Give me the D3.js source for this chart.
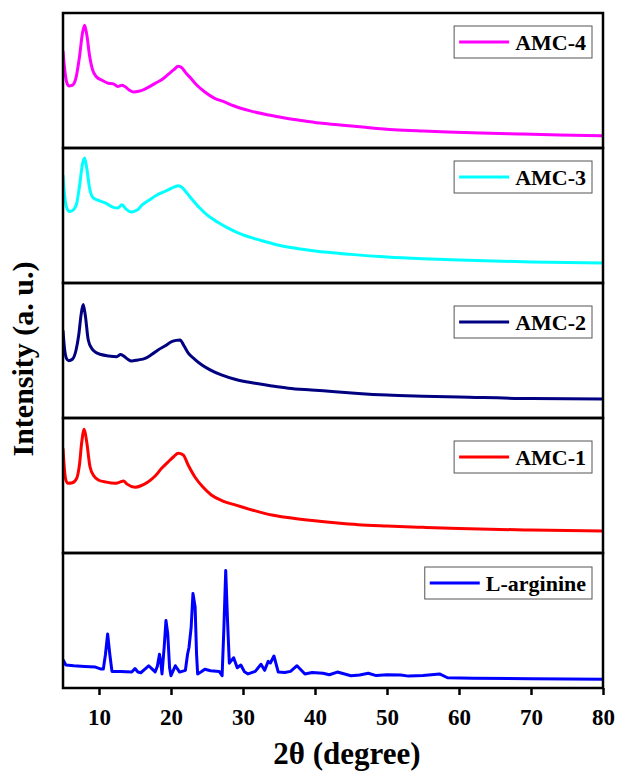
<!DOCTYPE html>
<html>
<head>
<meta charset="utf-8">
<script src="https://cdn.jsdelivr.net/npm/d3@7"></script>
<style>
  body { margin: 0; background: #fff; }
  text { font-family: 'Liberation Serif', 'Times New Roman', serif; font-weight: bold; }
</style>
</head>
<body>
<div id="chart"></div>
<script>
// 2-theta ticks
var xTicks = [10, 20, 30, 40, 50, 60, 70, 80]

var names = ['AMC-4', 'AMC-3', 'AMC-2', 'AMC-1', 'L-arginine']
var colors = ['#ff00ff', '#00ffff', '#000080', '#ff0000', '#0000ff']

// [2theta, intensity (a.u., 0-100 within each panel)]
var amc4 = [[5, 72], [5.2, 60], [5.5, 49], [5.8, 46], [6.3, 46.5], [6.8, 52], [7.3, 68], [7.7, 85], [8.0, 91],
  [8.3, 84], [8.7, 68], [9.1, 58], [9.6, 53], [10.5, 50], [11.3, 48], [12.0, 47.5], [12.6, 45.5], [13.2, 46.5],
  [13.6, 45.5], [14.2, 43], [14.8, 41.5], [15.5, 42], [16.3, 43.5], [17.2, 46], [18, 48.5], [18.8, 51],
  [19.6, 54.5], [20.4, 58], [21.0, 60.5], [21.5, 59.5], [22.0, 56], [22.7, 52], [23.5, 47], [24.7, 41.5],
  [26, 37], [27.5, 34], [28.7, 31.3], [31, 27.5], [33.6, 24.4], [36, 22], [38.6, 20], [41, 18.3], [43.5, 17],
  [47, 15.3], [51, 13.6], [55, 12.6], [58.4, 11.9], [63, 11.1], [68.3, 10.4], [74, 9.7], [80, 9.1]]

var amc3 = [[5, 80], [5.2, 66], [5.5, 56], [5.9, 53], [6.4, 54], [6.9, 59], [7.3, 72], [7.7, 88], [8.0, 92.6],
  [8.3, 85], [8.7, 70], [9.2, 63], [10, 61], [11, 59], [12, 56], [12.6, 55.5], [13.2, 58], [13.7, 55],
  [14.5, 52.6], [15.3, 54], [16, 57.8], [17, 61.5], [18, 65], [19, 67.5], [20, 70], [21, 72], [21.6, 70.5],
  [22.3, 66], [23, 61.5], [24, 55.5], [25, 50.4], [26.5, 45], [28, 40.5], [30, 35.6], [32.5, 31.5], [35, 28],
  [37.5, 25.6], [40, 23.7], [45, 21.2], [50, 19.3], [55, 18], [60, 17], [70, 15.6], [80, 14.8]]

var amc2 = [[5, 65], [5.2, 52], [5.5, 44], [5.8, 42.4], [6.3, 43.5], [6.8, 50], [7.2, 62], [7.5, 76], [7.8, 84],
  [8.1, 76], [8.5, 58], [9.0, 51.5], [9.45, 49], [10.3, 47], [11.3, 46], [12.45, 45.4], [13.0, 47], [13.4, 46],
  [14, 43.5], [14.5, 42.2], [15.4, 43], [16.4, 44.2], [17.3, 47], [18.2, 50.4], [19.2, 53.5], [20.1, 56.5],
  [20.7, 57.5], [21.25, 57.8], [21.8, 53.5], [22.4, 48.1], [23.3, 43.5], [24.3, 39.3], [25.5, 35.5], [27, 31.9],
  [29, 28.5], [31.7, 25.7], [34, 23.7], [36.3, 22], [39.5, 20.7], [42.8, 19.5], [46, 18.2], [50, 17],
  [55, 16.2], [60, 15.6], [70, 14.4], [80, 14.1]]

var amc1 = [[5, 77.6], [5.2, 62], [5.4, 54], [5.7, 51.6], [6.3, 52], [6.9, 55.3], [7.3, 66], [7.6, 82],
  [7.95, 91.6], [8.3, 82], [8.75, 63.9], [9.3, 57], [9.9, 54.1], [11, 52.5], [12.2, 51.6], [12.9, 52.5],
  [13.4, 53.3], [13.9, 51], [15, 48.7], [15.9, 50], [16.85, 52.8], [17.8, 57], [18.7, 62.7], [19.6, 67.5],
  [20.4, 71.5], [21, 73.9], [21.7, 72.6], [22.4, 65], [23.3, 56.5], [24.4, 49], [25.6, 43], [27.2, 38.5],
  [28.9, 35.6], [31.5, 31.5], [34, 28.1], [38, 25], [42.8, 22.4], [46, 21], [50, 20], [55, 19], [60, 18.1],
  [70, 17], [80, 16.3]]

var arginine = [[5, 21], [5.4, 17], [6.5, 16.5], [8, 16], [9.5, 15.5], [10.3, 14], [10.6, 14], [10.9, 25],
  [11.2, 40], [11.5, 25], [11.8, 12.3], [13, 12.3], [14.55, 11.9], [15.0, 14.4], [15.4, 11.8], [15.8, 11.3],
  [16.5, 14.5], [16.9, 16.5], [17.4, 14], [17.8, 11.9], [18.1, 16], [18.4, 25], [18.6, 18], [18.75, 10.4],
  [19.05, 30], [19.3, 50], [19.55, 40], [19.8, 15], [20, 9.1], [20.6, 16.5], [21.2, 11.8], [22, 13.1],
  [22.3, 25], [22.5, 30], [22.8, 45], [23.05, 70], [23.35, 60], [23.55, 25], [23.7, 10.4], [24.2, 12],
  [24.7, 13.9], [25.5, 12.8], [26.7, 12.3], [27.1, 9.1], [27.35, 45], [27.6, 87], [27.85, 50], [28.1, 18.4],
  [28.7, 22.4], [29.2, 15], [29.7, 17], [30.2, 12], [30.7, 10.4], [31.7, 12.3], [32.5, 17.6], [33, 13.1],
  [33.5, 19.7], [33.8, 18.5], [34.3, 23.7], [34.9, 11.8], [35.8, 11.5], [36.6, 12.3], [37.5, 16.5],
  [38.6, 10.4], [39.6, 11.5], [41.1, 10.9], [42, 9.8], [43.1, 11.8], [45, 9.1], [46.2, 9.6], [47.4, 10.9],
  [48.5, 9.2], [50, 9.8], [51.9, 9.6], [53, 8.8], [55, 9.2], [57.3, 10.4], [58.4, 7.6], [62, 7.2], [70, 6.9],
  [80, 6.5]]

var series = [amc4, amc3, amc2, amc1, arginine]

;(function () {
  var W = 618
  var H = 771
  var LEFT = 63
  var RIGHT = 603
  var TOP = 13
  var PANEL_H = 135
  var LEGEND_DY = [29, 29, 39, 39, 30] // legend centre below panel top
  var LEGEND_RIGHT = 592

  var svg = d3.select('#chart').append('svg')
    .attr('width', W)
    .attr('height', H)

  var x = d3.scaleLinear().domain([5, 80]).range([LEFT, RIGHT])

  svg.append('defs').selectAll('clipPath').data(series).enter().append('clipPath')
    .attr('id', function (d, i) { return 'clip' + i })
    .append('rect')
    .attr('x', LEFT)
    .attr('y', function (d, i) { return TOP + i * PANEL_H })
    .attr('width', RIGHT - LEFT)
    .attr('height', PANEL_H)

  series.forEach(function (data, i) {
    var top = TOP + i * PANEL_H
    var y = d3.scaleLinear().domain([0, 100]).range([top + PANEL_H, top])
    var line = d3.line()
      .x(function (d) { return x(d[0]) })
      .y(function (d) { return y(d[1]) })
      .curve(i === 4 ? d3.curveLinear : d3.curveMonotoneX)

    svg.append('path')
      .datum(data)
      .attr('clip-path', 'url(#clip' + i + ')')
      .attr('d', line)
      .attr('fill', 'none')
      .attr('stroke', colors[i])
      .attr('stroke-width', 3)
      .attr('stroke-linejoin', 'round')

    // legend
    var cy = top + LEGEND_DY[i]
    var g = svg.append('g')
    var label = g.append('text')
      .text(names[i])
      .attr('font-size', 22)
      .attr('y', cy + 7.5)
    var tw = label.node().getComputedTextLength()
    var boxW = 5 + 50 + 6 + tw + 6
    var bx = LEGEND_RIGHT - boxW
    label.attr('x', bx + 61)
    g.insert('rect', 'text')
      .attr('x', bx)
      .attr('y', cy - 16)
      .attr('width', boxW)
      .attr('height', 32)
      .attr('fill', '#fff')
      .attr('stroke', '#555')
      .attr('stroke-width', 1)
    g.append('line')
      .attr('x1', bx + 5)
      .attr('x2', bx + 55)
      .attr('y1', cy)
      .attr('y2', cy)
      .attr('stroke', colors[i])
      .attr('stroke-width', 3)

    svg.append('rect')
      .attr('x', LEFT)
      .attr('y', top)
      .attr('width', RIGHT - LEFT)
      .attr('height', PANEL_H)
      .attr('fill', 'none')
      .attr('stroke', '#000')
      .attr('stroke-width', 2.5)
  })

  var bottom = TOP + series.length * PANEL_H
  var axis = svg.append('g')
    .attr('transform', 'translate(0,' + bottom + ')')
    .call(d3.axisBottom(x).tickValues(xTicks).tickSize(7).tickPadding(14))
  axis.select('.domain').remove()
  axis.selectAll('line').attr('stroke', '#000').attr('stroke-width', 2.5)
  axis.selectAll('text')
    .attr('font-size', 23)
    .attr('fill', '#000')
    .attr('font-family', "'Liberation Serif', serif")
    .attr('font-weight', 'bold')

  svg.append('text')
    .text('2θ  (degree)')
    .attr('x', 347)
    .attr('y', 764)
    .attr('text-anchor', 'middle')
    .attr('font-size', 31)

  svg.append('text')
    .text('Intensity (a. u.)')
    .attr('transform', 'translate(33,359) rotate(-90)')
    .attr('text-anchor', 'middle')
    .attr('font-size', 30)
})()
</script>
</body>
</html>
